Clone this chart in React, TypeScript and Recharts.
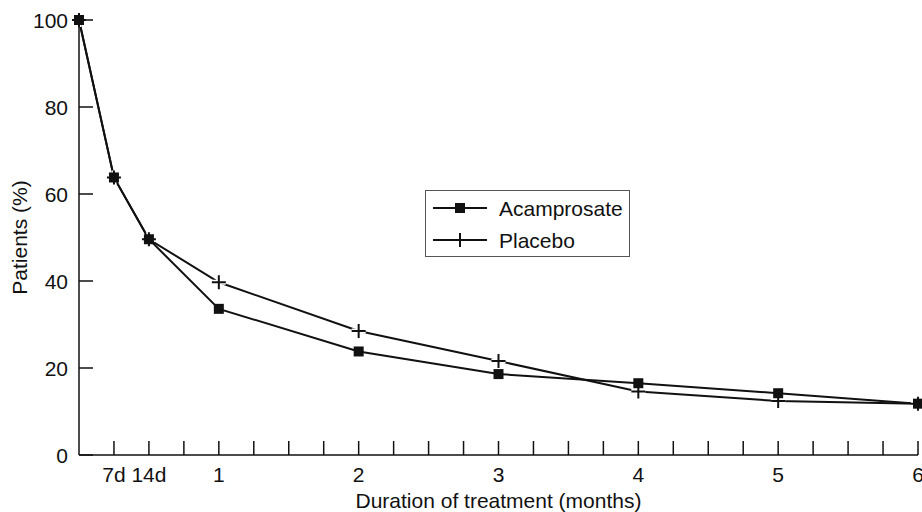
import { CartesianGrid, Label, Legend, Line, LineChart, XAxis, YAxis } from "recharts";

// months on treatment; 0.25 / 0.5 stand for the 7-day and 14-day visits
const months = [0, 0.25, 0.5, 1, 2, 3, 4, 5, 6];
const acamprosate = [100, 63.8, 49.6, 33.6, 23.8, 18.6, 16.5, 14.2, 11.8];
const placebo = [100, 63.8, 49.6, 39.7, 28.5, 21.6, 14.6, 12.4, 11.8];

const xTicks = [0.25, 0.5, 0.75, 1, 1.25, 1.5, 1.75, 2, 2.25, 2.5, 2.75, 3, 3.25, 3.5, 3.75, 4, 4.25, 4.5, 4.75, 5, 5.25, 5.5, 5.75, 6];
const xTickLabels: Record<string, string> = { "0.25": "7d", "0.5": "14d", "1": "1", "2": "2", "3": "3", "4": "4", "5": "5", "6": "6" };
const yTicks = [0, 20, 40, 60, 80, 100];

const data = months.map((m, i) => ({ month: m, acamprosate: acamprosate[i], placebo: placebo[i] }));

const font = "'Liberation Sans', Arial, Helvetica, sans-serif";
const ink = "#111";
const TICK = 14;

function XTick({ x, y, payload }: any) {
  const label = xTickLabels[String(payload.value)] ?? "";
  return (
    <g>
      <line x1={x} x2={x} y1={y} y2={y - TICK} stroke={ink} strokeWidth={1.5} />
      <text x={x} y={y + 27} textAnchor="middle" fontSize={21} fontFamily={font} fill={ink}>{label}</text>
    </g>
  );
}

function YTick({ x, y, payload }: any) {
  return (
    <g>
      <line x1={x} x2={x + TICK} y1={y} y2={y} stroke={ink} strokeWidth={1.5} />
      <text x={x - 11} y={y + 7.5} textAnchor="end" fontSize={21} fontFamily={font} fill={ink}>{payload.value}</text>
    </g>
  );
}

function SquareDot({ cx, cy }: any) {
  if (cx == null || cy == null) return null;
  return <rect x={cx - 5} y={cy - 5} width={10} height={10} fill={ink} />;
}

function PlusDot({ cx, cy }: any) {
  if (cx == null || cy == null) return null;
  return (
    <g>
      <path d={`M${cx - 7},${cy}H${cx + 7}M${cx},${cy - 7}V${cy + 7}`} stroke="#fff" strokeWidth={5} />
      <path d={`M${cx - 7},${cy}H${cx + 7}M${cx},${cy - 7}V${cy + 7}`} stroke={ink} strokeWidth={2} />
    </g>
  );
}

function LegendBox() {
  const row = (marker: React.ReactNode, text: string) => (
    <div style={{ display: "flex", alignItems: "center", height: 32 }}>
      <svg width={58} height={20} style={{ marginRight: 8, flexShrink: 0 }}>
        <line x1={0} x2={54} y1={10} y2={10} stroke={ink} strokeWidth={2} />
        {marker}
      </svg>
      <span style={{ whiteSpace: "nowrap" }}>{text}</span>
    </div>
  );
  return (
    <div style={{ border: "1.5px solid #555", width: 205, height: 67, padding: "1px 0 0 7px", boxSizing: "border-box", fontFamily: font, fontSize: 21, color: ink, background: "#fff", lineHeight: 1 }}>
      {row(<rect x={22} y={5} width={10} height={10} fill={ink} />, "Acamprosate")}
      {row(
        <g>
          <path d="M20,10H34M27,3V17" stroke="#fff" strokeWidth={5} />
          <path d="M20,10H34M27,3V17" stroke={ink} strokeWidth={2} />
        </g>,
        "Placebo"
      )}
    </div>
  );
}

export default function App() {
  return (
    <div style={{ position: "absolute", left: 0, top: 0, background: "#fff" }}>
      <LineChart width={922} height={512} data={data} margin={{ top: 20, right: 4, bottom: 0, left: 0 }}>
        <CartesianGrid stroke="none" />
        <XAxis
          dataKey="month"
          type="number"
          domain={[0, 6]}
          ticks={xTicks}
          interval={0}
          tick={<XTick />}
          tickSize={0}
          tickMargin={0}
          tickLine={false}
          axisLine={{ stroke: ink, strokeWidth: 1.5 }}
          height={57}
        >
          <Label value="Duration of treatment (months)" position="insideBottom" offset={4} style={{ fontSize: 21, fontFamily: font, fill: ink }} />
        </XAxis>
        <YAxis
          type="number"
          domain={[0, 100]}
          ticks={yTicks}
          interval={0}
          tick={<YTick />}
          tickSize={0}
          tickMargin={0}
          tickLine={false}
          axisLine={{ stroke: ink, strokeWidth: 1.5 }}
          width={79}
        >
          <Label value="Patients (%)" angle={-90} position="insideLeft" offset={20} style={{ fontSize: 21, fontFamily: font, fill: ink, textAnchor: "middle" }} />
        </YAxis>
        <Legend
          layout="vertical"
          verticalAlign="middle"
          align="center"
          wrapperStyle={{ left: 425, top: 190, width: "auto" }}
          content={() => <LegendBox />}
        />
        <Line dataKey="placebo" name="Placebo" stroke={ink} strokeWidth={2} dot={<PlusDot />} activeDot={false} isAnimationActive={false} />
        <Line dataKey="acamprosate" name="Acamprosate" stroke={ink} strokeWidth={2} dot={<SquareDot />} activeDot={false} isAnimationActive={false} />
      </LineChart>
    </div>
  );
}
